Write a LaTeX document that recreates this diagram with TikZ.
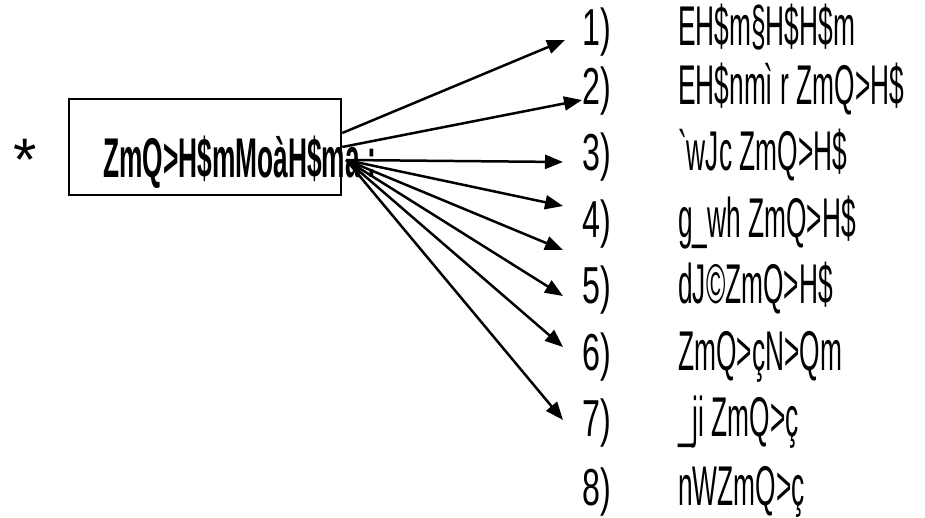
\documentclass[tikz,border=0pt]{standalone}
\usepackage{fontspec}
\setmainfont{Liberation Sans}
\newfontfamily\estrecha[FakeStretch=0.62]{Liberation Sans}
\newfontfamily\angosta[FakeStretch=0.47]{Liberation Sans}
\usepackage{tikz}
\usetikzlibrary{arrows.meta}
\tikzstyle{arrow} = [line width=2.5pt,-{Triangle[length=18pt,width=14pt]}]
\tikzstyle{texto} = [inner sep=0pt,anchor=base west,font=\estrecha\fontsize{52}{60}\selectfont]
\tikzstyle{opcion} = [inner sep=0pt,anchor=base west,font=\angosta\fontsize{56}{64}\selectfont]

\begin{document}
\begin{tikzpicture}[x=1pt,y=-1pt]
		\useasboundingbox (0,0) rectangle (925,517);
		% caja de la izquierda
		\node[inner sep=0pt,anchor=base,font=\fontsize{60}{66}\selectfont] (asterisco) at (25,180) {*};
		\node[draw,line width=2.5pt,minimum width=272pt,minimum height=96pt,inner sep=0pt] (caja) at (205,147) {};
		\node[opcion,font=\angosta\bfseries\fontsize{56}{60}\selectfont] (titulo) at (103,177) {ZmQ>H\$mMoàH\$ma :};
		\coordinate (s1) at ([yshift=14pt]caja.east);
		\coordinate (s2) at (caja.east);
		\coordinate (s3) at ([xshift=4pt,yshift=-13pt]caja.east);
		% lista de la derecha
		\foreach \i/\Yc/\Texto in 
		{1/45/{EH\$m§H\$H\$m},2/104/{EH\$nmì r ZmQ>H\$},3/170/{\symbol{96}wJc ZmQ>H\$},4/237/{g\_wh ZmQ>H\$},
		 5/303/{dJ©ZmQ>H\$},6/370/{ZmQ>çN>Qm},7/436/{\_ji ZmQ>ç},8/505/{nWZmQ>ç}}
		{
			\node[texto] (num\i) at (582,\Yc) {\i)};
			\node[opcion] (opcion\i) at (678,\Yc) {\Texto};
		}
		% flechas
		\coordinate (f1) at (565,40);
		\coordinate (f2) at (582,100);
		\draw[arrow] (s1) -- (f1);
		\draw[arrow] (s2) -- (f2);
		\foreach \j/\Yc in 
		{3/162,4/206,5/250,6/296,7/347,8/420}
		{
			\coordinate (f\j) at (563,\Yc);
			\draw[arrow] (s3) -- (f\j);
		}
\end{tikzpicture}
\end{document}
